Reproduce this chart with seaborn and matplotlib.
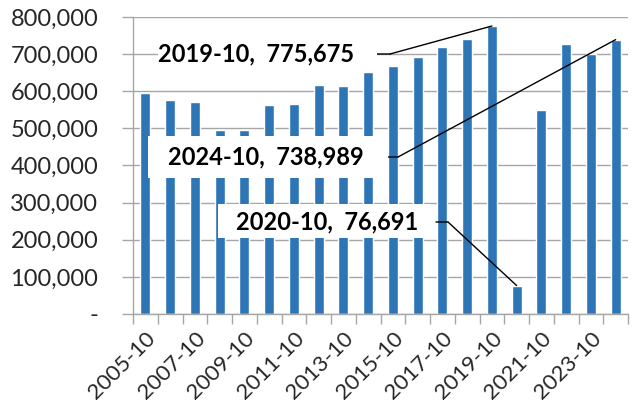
import matplotlib
matplotlib.use('Agg')
import matplotlib.pyplot as plt
from matplotlib.patches import Rectangle
from matplotlib.transforms import IdentityTransform
import seaborn as sns
import numpy as np

# meses (outubro de cada ano) e valores
months = ['2005-10', '2006-10', '2007-10', '2008-10', '2009-10', '2010-10',
          '2011-10', '2012-10', '2013-10', '2014-10', '2015-10', '2016-10',
          '2017-10', '2018-10', '2019-10', '2020-10', '2021-10', '2022-10',
          '2023-10', '2024-10']
values = [594000, 577000, 570000, 496000, 495000, 564000, 567000, 618000,
          615000, 651000, 669000, 692000, 718000, 740000, 775675, 76691,
          550000, 727000, 701000, 738989]

# rótulos destacados
callouts = ['2019-10', '2024-10', '2020-10']

sns.set_style('white')
plt.rcParams['font.family'] = ['Lato', 'DejaVu Sans']

W, H = 634, 404
fig = plt.figure(figsize=(W / 100, H / 100), dpi=100)
ax = fig.add_axes([133/W, 90/H, 495/W, 297/H])

grid_c = '#A6A6A6'
sns.barplot(x=months, y=values, color='#2E75B6', width=0.4, ax=ax,
            saturation=1, zorder=2)
ax.set_xlim(-0.5, len(months) - 0.5)
ax.set_ylim(0, 800000)
ax.set_yticks(np.arange(0, 800001, 100000))
ax.set_yticklabels(['-' if v == 0 else f'{v:,}' for v in range(0, 800001, 100000)],
                   fontsize=17)
ax.yaxis.grid(True, color=grid_c, lw=1, zorder=0)
ax.set_axisbelow(True)

# rótulos do eixo x a cada dois anos, marcas entre as categorias
ax.set_xticks(range(0, len(months), 2))
ax.set_xticklabels(months[::2], rotation=45, ha='right', rotation_mode='anchor',
                   fontsize=16)
ax.set_xticks(np.arange(-0.5, len(months), 1), minor=True)
ax.tick_params(axis='x', which='major', length=0, pad=10)
ax.tick_params(axis='x', which='minor', length=7, color=grid_c, width=1,
               direction='out', bottom=True)
ax.tick_params(axis='y', length=8, color=grid_c, width=1, direction='out',
               left=True, pad=17)
ax.set_xlabel('')
ax.set_ylabel('')
for s in ['top', 'right']:
    ax.spines[s].set_visible(False)
for s in ['left', 'bottom']:
    ax.spines[s].set_color(grid_c)
    ax.spines[s].set_linewidth(1)

# caixas de anotação em pixels (a partir do topo): centro do texto, caixa, ligação
label_pos = {'2019-10': ((256, 54), (158, 40, 377, 68), (377, 390)),
             '2024-10': ((266, 157), (148, 136, 388, 178), (388, 398)),
             '2020-10': ((327, 222), (218, 204, 430, 238), (436, 448))}


def px(x, y):
    return (x, H - y)


for m in callouts:
    i = months.index(m)
    v = values[i]
    (tx, ty), (x0, y0, x1, y1), (ex, kx) = label_pos[m]
    fig.patches.append(Rectangle(px(x0, y1), x1 - x0, y1 - y0, fc='white',
                                 ec='none', transform=IdentityTransform(),
                                 zorder=4, figure=fig))
    fig.text(tx / W, 1 - ty / H, f'{m},  {v:,}', ha='center', va='center',
             fontsize=17, fontweight='bold', color='black', zorder=5)
    ax.annotate('', xy=px(kx, ty), xycoords='figure pixels',
                xytext=px(ex, ty), textcoords='figure pixels',
                arrowprops=dict(arrowstyle='-', color='black', lw=1,
                                shrinkA=0, shrinkB=0), zorder=6)
    ax.annotate('', xy=(i, v), xycoords='data',
                xytext=px(kx, ty), textcoords='figure pixels',
                arrowprops=dict(arrowstyle='-', color='black', lw=1,
                                shrinkA=0, shrinkB=0), zorder=6)

plt.savefig('out.png', dpi=100)
